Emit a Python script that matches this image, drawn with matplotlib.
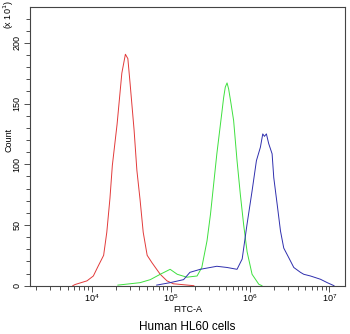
import matplotlib.pyplot as plt
from matplotlib.ticker import LogLocator, MultipleLocator, NullFormatter

plt.rcParams["font.family"] = ["Liberation Sans", "DejaVu Sans"]

# values: log10(FITC-A) and count (x10^1)
red_logx = [3.76, 3.79, 3.94, 4.02, 4.08, 4.15, 4.19, 4.23, 4.26, 4.32, 4.38,
            4.425, 4.456, 4.485, 4.535, 4.57, 4.61, 4.65, 4.70, 4.76, 4.82,
            4.865, 4.95, 5.03, 5.29]
red_count = [0, 1, 4, 8, 16, 25, 44, 72, 99, 133, 175,
             190.6, 187, 166, 128, 95, 71, 44, 25, 19, 13.5,
             9.4, 4, 1.6, 0]

green_logx = [4.33, 4.61, 4.74, 4.865, 4.99, 5.08, 5.20, 5.33, 5.39, 5.456,
              5.50, 5.58, 5.646, 5.666, 5.687, 5.709, 5.729, 5.759, 5.792,
              5.835, 5.877, 5.919, 5.962, 6.025, 6.11, 6.15]
green_count = [0.5, 2.5, 5, 9.4, 13.5, 9.4, 7, 8, 15, 37,
               59, 108.6, 144, 155, 163.6, 167, 162, 150, 136,
               103, 75, 50, 28, 9.4, 1.2, 0]

blue_logx = [4.82, 4.99, 5.16, 5.24, 5.37, 5.58, 5.71, 5.835, 5.90, 5.96,
             6.025, 6.08, 6.13, 6.16, 6.181, 6.206, 6.235, 6.278, 6.299,
             6.342, 6.384, 6.425, 6.489, 6.552, 6.636, 6.678, 6.763, 6.889,
             6.975, 7.06]
blue_count = [0.5, 2.5, 5, 11, 13.5, 16, 15, 13.5, 22, 50,
              78, 103, 114, 125, 123, 125, 117, 108.6, 89,
              67, 45, 31, 23, 15, 11, 9.4, 8, 5.3,
              2.5, 0]

fig = plt.figure(figsize=(3.5, 3.34), dpi=100)
ax = fig.add_axes([0.0857, 0.1446, 0.9003, 0.8344])

ax.plot([10 ** v for v in red_logx], red_count, color="#e23a3a", lw=0.7)
ax.plot([10 ** v for v in green_logx], green_count, color="#3fe03f", lw=0.7)
ax.plot([10 ** v for v in blue_logx], blue_count, color="#2f2fae", lw=0.7)

ax.set_xscale("log")
ax.set_xlim(10 ** 3.22, 10 ** 7.2)
ax.set_ylim(0, 229.5)

ax.xaxis.set_major_locator(LogLocator(base=10, numticks=10))
ax.xaxis.set_minor_locator(LogLocator(base=10, subs=range(2, 10), numticks=20))
ax.xaxis.set_minor_formatter(NullFormatter())
ax.yaxis.set_major_locator(MultipleLocator(50))
ax.yaxis.set_minor_locator(MultipleLocator(10))

ax.tick_params(which="both", direction="out", color="#333333", width=0.6)
ax.tick_params(which="major", length=4, labelsize=6.5, pad=2)
ax.tick_params(axis="x", which="major", pad=1)
ax.tick_params(which="minor", length=3)
for lbl in ax.get_yticklabels():
    lbl.set_rotation(90)
    lbl.set_va("center")
for s in ax.spines.values():
    s.set_color("#444444")
    s.set_linewidth(0.8)

fig.text(0.025, 0.955, r"(x 10$^1$)", rotation=90, ha="center", va="center",
         fontsize=6.5)
fig.text(0.025, 0.58, "Count", rotation=90, ha="center", va="center",
         fontsize=6.5)
fig.text(0.535, 0.072, "FITC-A", ha="center", va="center", fontsize=6.5)
fig.text(0.535, 0.021, "Human HL60 cells", ha="center", va="center",
         fontsize=8.5)

fig.savefig("out.png", dpi=100)
